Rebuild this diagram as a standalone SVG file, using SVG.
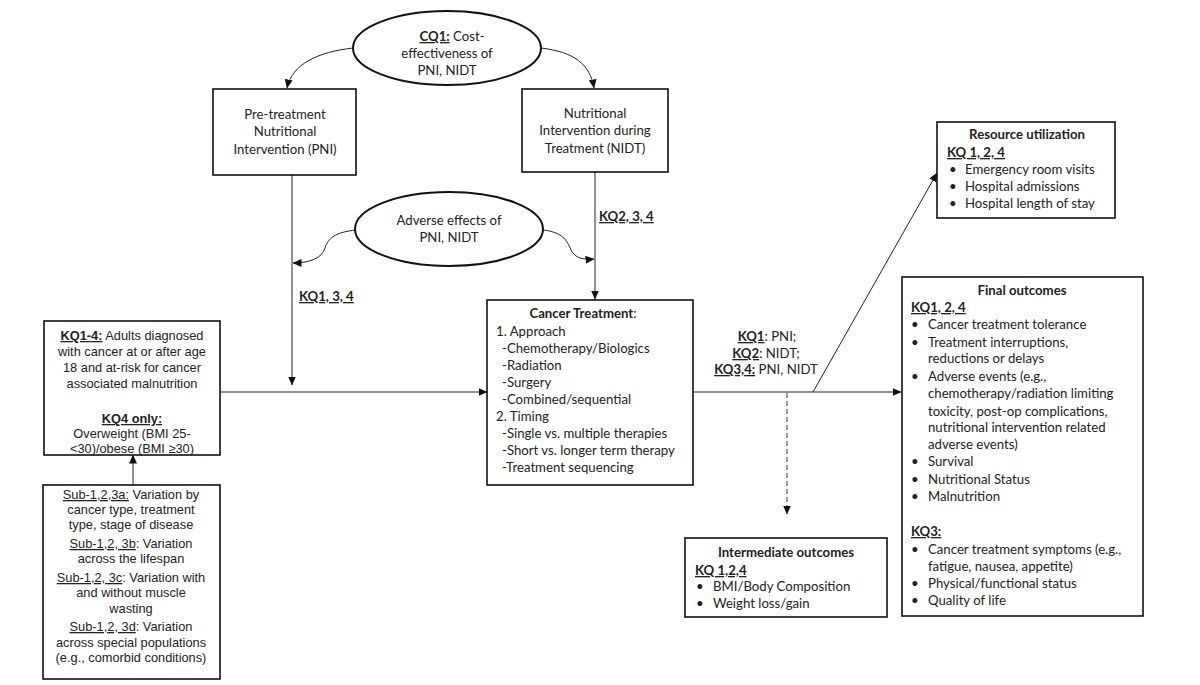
<svg xmlns="http://www.w3.org/2000/svg" width="1200" height="685" viewBox="0 0 1200 685">
<style>
.box{fill:#fff;stroke:#111;stroke-width:1.6}
.ell{fill:#fff;stroke:#111;stroke-width:2}
.c{font-family:Lato,"Liberation Sans",sans-serif;font-size:13.2px;fill:#222}
.a{font-family:"Liberation Sans",Arial,sans-serif;font-size:12.8px;fill:#222}
.m{text-anchor:middle}
.b{font-weight:bold}
.u{text-decoration:underline}
.ln{fill:none;stroke:#222;stroke-width:1}
.dash{fill:none;stroke:#555;stroke-width:1.2;stroke-dasharray:5,3}
</style>
<defs>
<marker id="ar" markerWidth="9" markerHeight="8" refX="8.5" refY="4" orient="auto" markerUnits="userSpaceOnUse">
<path d="M0,0 L9,4 L0,8 Z" fill="#111"/>
</marker>
</defs>
<rect width="1200" height="685" fill="#fff"/>

<g id="connectors">
<path class="ln" d="M353,48 C318,52 292,64 287,88" marker-end="url(#ar)"/>
<path class="ln" d="M541,48 C574,52 590,64 594,88" marker-end="url(#ar)"/>
<path class="ln" d="M292,175 L292,385" marker-end="url(#ar)"/>
<path class="ln" d="M595,172 L595,299" marker-end="url(#ar)"/>
<path class="ln" d="M356,230 C336,232 328,238 325,248 C322,258 310,263 293,263" marker-end="url(#ar)"/>
<path class="ln" d="M543,230 C562,232 567,240 571,250 C575,258 583,260 594,259" marker-end="url(#ar)"/>
<path class="ln" d="M220,392 L487,392" marker-end="url(#ar)"/>
<path class="ln" d="M133,484 L133,455" marker-end="url(#ar)"/>
<path class="ln" d="M693,392 L901,392" marker-end="url(#ar)"/>
<path class="ln" d="M813,392 L937,173" marker-end="url(#ar)"/>
<path class="dash" d="M787,393 L787,514" marker-end="url(#ar)"/>
<text class="c b u" x="599" y="221">KQ2, 3, 4</text>
<text class="c b u" x="299" y="301">KQ1, 3, 4</text>
<text class="c m" x="767" y="341"><tspan class="b u">KQ1</tspan>: PNI;</text>
<text class="c m" x="766" y="358"><tspan class="b u">KQ2</tspan>: NIDT;</text>
<text class="c m" x="766" y="374"><tspan class="b u">KQ3,4:</tspan> PNI, NIDT</text>
</g>

<g id="cq1">
<ellipse class="ell" cx="447" cy="48" rx="94" ry="37"/>
<text class="c m" x="452" y="41"><tspan class="b u">CQ1:</tspan> Cost-</text>
<text class="c m" x="447" y="58">effectiveness of</text>
<text class="c m" x="447" y="75">PNI, NIDT</text>
</g>

<g id="pni">
<rect class="box" x="213" y="89" width="143" height="86"/>
<text class="c m" x="285" y="119">Pre-treatment</text>
<text class="c m" x="285" y="136">Nutritional</text>
<text class="c m" x="285" y="154">Intervention (PNI)</text>
</g>

<g id="nidt">
<rect class="box" x="522" y="89" width="146" height="83"/>
<text class="c m" x="595" y="118">Nutritional</text>
<text class="c m" x="595" y="135">Intervention during</text>
<text class="c m" x="595" y="153">Treatment (NIDT)</text>
</g>

<g id="adverse">
<ellipse class="ell" cx="449" cy="229" rx="94" ry="37"/>
<text class="c m" x="449" y="225">Adverse effects of</text>
<text class="c m" x="449" y="242">PNI, NIDT</text>
</g>

<g id="population">
<rect class="box" x="44" y="321" width="176" height="134"/>
<text class="a m" x="132" y="340"><tspan class="b u">KQ1-4:</tspan> Adults diagnosed</text>
<text class="a m" x="132" y="356">with cancer at or after age</text>
<text class="a m" x="132" y="372">18 and at-risk for cancer</text>
<text class="a m" x="132" y="388">associated malnutrition</text>
<text class="a m b u" x="132" y="423">KQ4 only:</text>
<text class="a m" x="132" y="438">Overweight (BMI 25-</text>
<text class="a m" x="132" y="453">&lt;30)/obese (BMI ≥30)</text>
</g>

<g id="subgroups">
<rect class="box" x="43" y="485" width="177" height="194"/>
<text class="a m" x="131" y="499"><tspan class="u">Sub-1,2,3a:</tspan> Variation by</text>
<text class="a m" x="131" y="514">cancer type, treatment</text>
<text class="a m" x="131" y="529">type, stage of disease</text>
<text class="a m" x="131" y="548"><tspan class="u">Sub-1,2, 3b</tspan>: Variation</text>
<text class="a m" x="131" y="563">across the lifespan</text>
<text class="a m" x="131" y="582"><tspan class="u">Sub-1,2, 3c</tspan>: Variation with</text>
<text class="a m" x="131" y="597">and without muscle</text>
<text class="a m" x="131" y="613">wasting</text>
<text class="a m" x="131" y="631"><tspan class="u">Sub-1,2, 3d</tspan>: Variation</text>
<text class="a m" x="131" y="647">across special populations</text>
<text class="a m" x="131" y="662">(e.g., comorbid conditions)</text>
</g>

<g id="treatment">
<rect class="box" x="487" y="300" width="206" height="185"/>
<text class="c m" x="583" y="318"><tspan class="b">Cancer Treatment</tspan>:</text>
<text class="c" x="496" y="336">1. Approach</text>
<text class="c" x="502" y="353">-Chemotherapy/Biologics</text>
<text class="c" x="502" y="370">-Radiation</text>
<text class="c" x="502" y="387">-Surgery</text>
<text class="c" x="502" y="404">-Combined/sequential</text>
<text class="c" x="496" y="421">2. Timing</text>
<text class="c" x="502" y="438">-Single vs. multiple therapies</text>
<text class="c" x="502" y="455">-Short vs. longer term therapy</text>
<text class="c" x="502" y="472">-Treatment sequencing</text>
</g>

<g id="resource">
<rect class="box" x="937" y="122" width="178" height="96"/>
<text class="c m b" x="1027" y="139">Resource utilization</text>
<text class="c b u" x="947" y="157">KQ 1, 2, 4</text>
<text class="c" x="949" y="174">•</text><text class="c" x="965" y="174">Emergency room visits</text>
<text class="c" x="949" y="191">•</text><text class="c" x="965" y="191">Hospital admissions</text>
<text class="c" x="949" y="208">•</text><text class="c" x="965" y="208">Hospital length of stay</text>
</g>

<g id="final">
<rect class="box" x="902" y="277" width="241" height="339"/>
<text class="c m b" x="1022" y="295">Final outcomes</text>
<text class="c b u" x="911" y="312">KQ1, 2, 4</text>
<text class="c" x="911" y="329">•</text><text class="c" x="928" y="329">Cancer treatment tolerance</text>
<text class="c" x="911" y="347">•</text><text class="c" x="928" y="347">Treatment interruptions,</text>
<text class="c" x="928" y="363">reductions or delays</text>
<text class="c" x="911" y="381">•</text><text class="c" x="928" y="381">Adverse events (e.g.,</text>
<text class="c" x="928" y="398">chemotherapy/radiation limiting</text>
<text class="c" x="928" y="416">toxicity, post-op complications,</text>
<text class="c" x="928" y="432">nutritional intervention related</text>
<text class="c" x="928" y="449">adverse events)</text>
<text class="c" x="911" y="466">•</text><text class="c" x="928" y="466">Survival</text>
<text class="c" x="911" y="484">•</text><text class="c" x="928" y="484">Nutritional Status</text>
<text class="c" x="911" y="501">•</text><text class="c" x="928" y="501">Malnutrition</text>
<text class="c b u" x="911" y="536">KQ3:</text>
<text class="c" x="911" y="554">•</text><text class="c" x="928" y="554">Cancer treatment symptoms (e.g.,</text>
<text class="c" x="928" y="571">fatigue, nausea, appetite)</text>
<text class="c" x="911" y="588">•</text><text class="c" x="928" y="588">Physical/functional status</text>
<text class="c" x="911" y="605">•</text><text class="c" x="928" y="605">Quality of life</text>
</g>

<g id="intermediate">
<rect class="box" x="685" y="538" width="202" height="79"/>
<text class="c m b" x="786" y="557">Intermediate outcomes</text>
<text class="c b u" x="695" y="575">KQ 1,2,4</text>
<text class="c" x="696" y="591">•</text><text class="c" x="713" y="591">BMI/Body Composition</text>
<text class="c" x="696" y="608">•</text><text class="c" x="713" y="608">Weight loss/gain</text>
</g>
</svg>
